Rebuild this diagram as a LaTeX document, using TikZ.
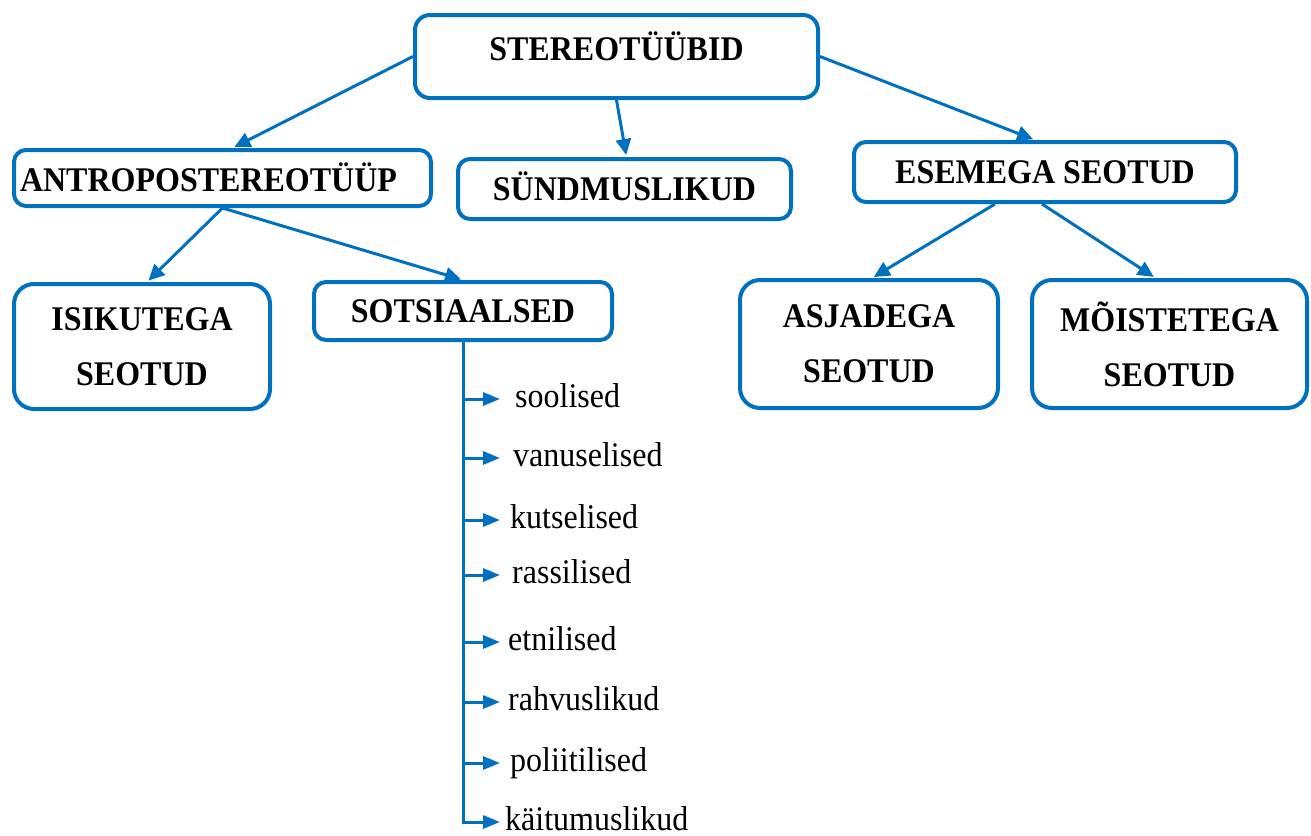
\documentclass[tikz,border=0pt]{standalone}
\usepackage{fontspec}
\usepackage{graphicx}
\setmainfont{Liberation Serif}
\usetikzlibrary{arrows.meta,calc}
\definecolor{bl}{HTML}{0070C0}
\newcommand{\vsx}[1]{\scalebox{1}[1.08]{#1}}
\begin{document}
\begin{tikzpicture}[x=1pt,y=-1pt,
  box/.style={draw=bl, line width=4pt, rounded corners=12pt,
    font=\bfseries\fontsize{32}{55}\selectfont, inner sep=0pt, align=center,
    text height=22pt, text depth=0pt},
  bigbox/.style={box, rounded corners=20pt, text height=, text depth=},
  conn/.style={draw=bl, line width=3pt, shorten >=2pt,
    -{Triangle[length=16pt,width=15pt]}},
  tick/.style={draw=bl, line width=3pt, -{Triangle[length=17pt,width=13pt]}},
  item/.style={font=\fontsize{32}{38}\selectfont, anchor=base west, inner sep=0pt}]
\useasboundingbox (0,0) rectangle (1311,835);

% boxes
\node[box, rounded corners=15pt, minimum width=403pt, minimum height=83pt,
  text height=22pt, text depth=15pt] (st) at (616.5,56.5) {\vsx{STEREOTÜÜBID}};
\node[box, minimum width=417pt, minimum height=56pt, align=left,
  text width=405pt, inner xsep=6pt, text height=26pt] (an) at (222.5,178) {\vsx{ANTROPOSTEREOTÜÜP}};
\node[box, minimum width=333pt, minimum height=60pt] (sd) at (624.5,189) {\vsx{SÜNDMUSLIKUD}};
\node[box, minimum width=382pt, minimum height=60pt] (es) at (1045,172) {\vsx{ESEMEGA SEOTUD}};
\node[bigbox, minimum width=256pt, minimum height=125pt] (is) at (142,346.5) {\vsx{ISIKUTEGA}\\\vsx{SEOTUD}};
\node[box, minimum width=298pt, minimum height=58pt] (so) at (463,311) {\vsx{SOTSIAALSED}};
\node[bigbox, minimum width=258pt, minimum height=128pt] (as) at (869,344) {\vsx{ASJADEGA}\\\vsx{SEOTUD}};
\node[bigbox, minimum width=275pt, minimum height=128pt] (mo) at (1169.5,344) {\vsx{MÕISTETEGA}\\\vsx{SEOTUD}};

% connectors
\draw[conn] (st.west) -- ($(an.north)+(10,0)$);
\draw[conn] (st.south) -- ($(sd.north)+(2,0)$);
\draw[conn] (st.east) -- ($(es.north)+(-10,0)$);
\draw[conn] (an.south) -- ($(is.north)+(5,0)$);
\draw[conn] (an.south) -- (so.north);
\draw[conn] ($(es.south)+(-50,0)$) -- ($(as.north)+(3,0)$);
\draw[conn] ($(es.south)+(-3,0)$) -- ($(mo.north)+(-14,0)$);

% list items
\node[item] (i1) at (515,407) {\vsx{soolised}};
\node[item] (i2) at (513,466) {\vsx{vanuselised}};
\node[item] (i3) at (510,528) {\vsx{kutselised}};
\node[item] (i4) at (512,583) {\vsx{rassilised}};
\node[item] (i5) at (508,650) {\vsx{etnilised}};
\node[item] (i6) at (508,710) {\vsx{rahvuslikud}};
\node[item] (i7) at (510,771) {\vsx{poliitilised}};
\node[item] (i8) at (505,830) {\vsx{käitumuslikud}};

\coordinate (t1) at (500,399);
\coordinate (t2) at (500,458);
\coordinate (t3) at (500,520);
\coordinate (t4) at (500,575);
\coordinate (t5) at (500,642);
\coordinate (t6) at (500,702);
\coordinate (t7) at (500,763);
\coordinate (t8) at (500,822);

\draw[draw=bl, line width=3pt] (so.south) -- (so.south |- t8);
\draw[tick] ($(so.south |- t8)+(-1.5,0)$) -- (t8);
\foreach \k in {1,...,7} {
  \draw[tick] (so.south |- t\k) -- (t\k);
}
\end{tikzpicture}
\end{document}
